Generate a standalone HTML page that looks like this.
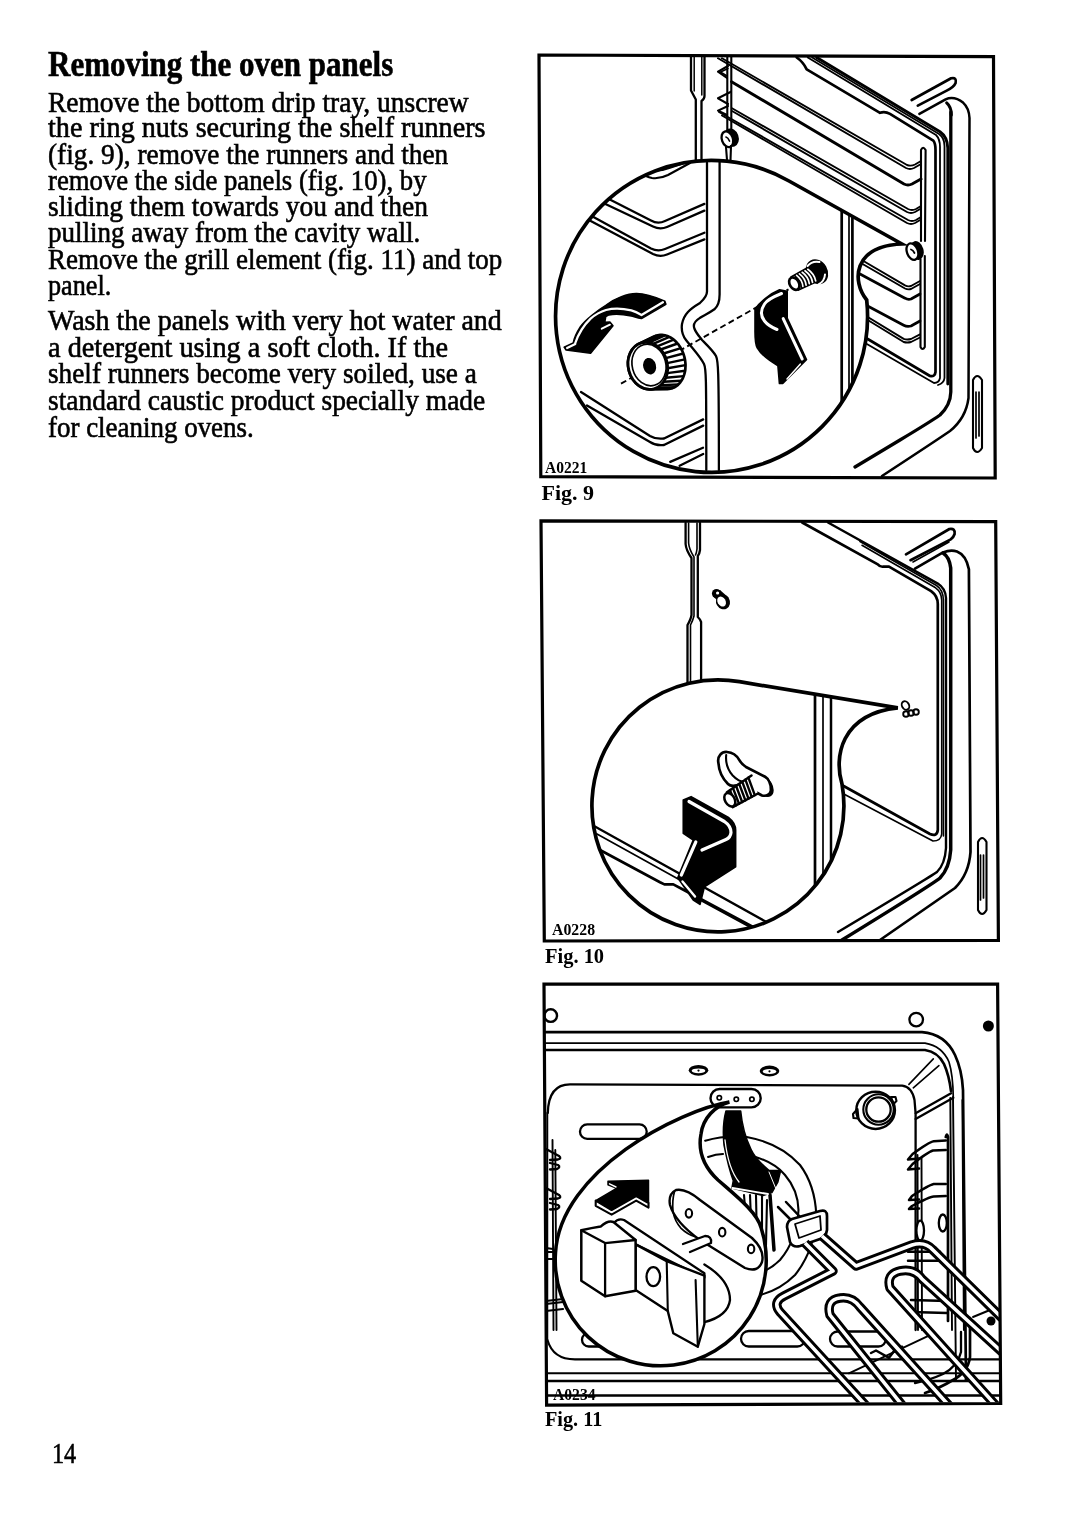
<!DOCTYPE html>
<html><head><meta charset="utf-8"><style>
html,body{margin:0;padding:0;background:#fff;}
body{width:1080px;height:1526px;position:relative;overflow:hidden;font-family:"Liberation Serif",serif;color:#000;}
.l{position:absolute;left:48px;font-size:29.5px;line-height:0;white-space:pre;transform-origin:0 0;-webkit-text-stroke:0.6px #000;}
.h{position:absolute;left:48px;top:64.1px;font-size:36px;font-weight:bold;line-height:0;white-space:pre;transform-origin:0 0;-webkit-text-stroke:0.6px #000;}
.c{position:absolute;font-weight:bold;line-height:0;white-space:pre;transform-origin:0 0;}
svg{position:absolute;left:0;top:0;}
.l,.h,.c{filter:grayscale(1);}
</style></head><body>
<div class="h" style="transform:scaleX(0.8609)">Removing the oven panels</div>
<div class="l" style="top:101.5px;transform:scaleX(0.9305)">Remove the bottom drip tray, unscrew</div>
<div class="l" style="top:127.2px;transform:scaleX(0.9535)">the ring nuts securing the shelf runners</div>
<div class="l" style="top:153.8px;transform:scaleX(0.9254)">(fig. 9), remove the runners and then</div>
<div class="l" style="top:180.0px;transform:scaleX(0.9062)">remove the side panels (fig. 10), by</div>
<div class="l" style="top:205.9px;transform:scaleX(0.9331)">sliding them towards you and then</div>
<div class="l" style="top:231.7px;transform:scaleX(0.9162)">pulling away from the cavity wall.</div>
<div class="l" style="top:258.7px;transform:scaleX(0.9141)">Remove the grill element (fig. 11) and top</div>
<div class="l" style="top:284.6px;transform:scaleX(0.8885)">panel.</div>
<div class="l" style="top:319.6px;transform:scaleX(0.9485)">Wash the panels with very hot water and</div>
<div class="l" style="top:346.7px;transform:scaleX(0.9588)">a detergent using a soft cloth. If the</div>
<div class="l" style="top:373.4px;transform:scaleX(0.9233)">shelf runners become very soiled, use a</div>
<div class="l" style="top:400.2px;transform:scaleX(0.9299)">standard caustic product specially made</div>
<div class="l" style="top:427.1px;transform:scaleX(0.9135)">for cleaning ovens.</div>
<div class="l" style="left:51.5px;top:1452.6px;transform:scaleX(0.82)">14</div>
<svg width="1080" height="1526" viewBox="0 0 1080 1526" fill="none" stroke="#000" stroke-linecap="round" stroke-linejoin="round">
<g id="fig9">
<g stroke-width="2.3">
<!-- left rail -->
<path d="M691,57 L691,90.5 L695.8,99.5 L695.8,162"/>
<path d="M704.5,57 L704.5,96 Q704.5,99 701.5,101 L701.5,162"/>
<path d="M694.2,57 L694.2,91" stroke-width="1.5"/>
<path d="M701.8,57 L701.8,95" stroke-width="1.5"/>
<!-- runner wire vertical -->
<path d="M727.3,57 L727.3,130" stroke-width="2.1"/>
<path d="M731.3,57 L731.3,131" stroke-width="2.1"/>
<path d="M728,66 L718,71.7 L727,78" stroke-width="2.1"/>
<path d="M728,68.5 L720.5,72 L727,76" stroke-width="1.5"/>
<path d="M731,91.7 L718,98.3 L728,104" stroke-width="2.1"/>
<path d="M728,106 L718,110.6 L727,115" stroke-width="2.1"/>
<ellipse cx="731.3" cy="137.6" rx="7.3" ry="9.4" transform="rotate(-20 731.3 137.6)" fill="#000" stroke="none"/>
<ellipse cx="727.4" cy="139.2" rx="5.5" ry="8.1" transform="rotate(-20 727.4 139.2)" fill="#fff" stroke-width="2.3"/>
<path d="M726,137 Q728,137.5 729.5,141" stroke-width="1.7"/>
<path d="M726,147 L727,160 M731,146 L730.5,160" stroke-width="2.1"/>
<!-- upper shelf diagonals -->
<path d="M718,58.3 L906,168 Q910,170 914,168 L921,164" stroke-width="1.9"/>
<path d="M722,58.3 L907,165 Q911,166.5 915,164.5 L921,161" stroke-width="1.9"/>
<path d="M731.5,81.7 L904,184 Q908,186 912,184 L921,179" stroke-width="2.9"/>
<path d="M732,108.3 L908,209 Q912,211 916,209 L921,206" stroke-width="1.9"/>
<path d="M732,111 L907,212 Q911,214 915,212 L921,208.5" stroke-width="1.9"/>
<path d="M719,112 L908,220 Q912,222 916,220 L921,217" stroke-width="1.9"/>
<path d="M722,115.5 L907,223 Q911,225 915,223 L921,219.5" stroke-width="1.9"/>
<!-- top panel lines -->
<path d="M796.7,57.5 Q803.3,62 806.7,69.4 L880,112.8 Q885,111 890,113.9 L933.3,140.6 Q935.5,143 935.5,150 L935.5,372 Q935,377 930,376 L866,338" stroke-width="2.7"/>
<path d="M807.8,57.5 L936,135 Q940,139 940,147 L940,378 Q939,383 934,383 L866,343.5" stroke-width="1.8"/>
<path d="M812.2,57.5 L939,134 Q944.5,138 944.5,146 L944.5,378 Q944,383 938,385" stroke-width="1.8"/>
<path d="M816.7,57.5 L940,131.7 Q947.5,137 947.8,148 L947.8,384" stroke-width="2.9"/>
<!-- cavity corner -->
<path d="M950.8,112 L950.8,392 Q950.5,405 940,415 Q930,422 900,440 L855,467" stroke-width="3.3"/>
<path d="M946.7,102.8 Q951.5,107 951.3,115" stroke-width="3.1"/>
<!-- hairpin -->
<path d="M911.7,100 L951.1,78.3 Q957,77 955.6,83 Q954,87 946.7,90.6 L917.8,105.6" stroke-width="2.7"/>
<path d="M919.4,113.9 L945.6,99.4 Q954,95.5 963.3,102.8 Q969,108 969.5,118 L968.5,398 Q966,418 950,431 Q940,438 882,476" stroke-width="2.5"/>
<!-- vertical rod -->
<path d="M921,150 Q923,145.5 925.6,150 L925,241 M921,241 L921,150" stroke-width="2.1"/>
<path d="M920.5,259 L920.5,347 Q922.5,351 924.8,347 L924.8,256" stroke-width="2.1"/>
<!-- lower shelf chevrons right -->
<path d="M860,259 L905,285.4 Q908,287 911,286 L920,281" stroke-width="1.9"/>
<path d="M860,262.5 L905,288.5 Q908,290 911,289 L920,284" stroke-width="1.9"/>
<path d="M860,274 L905,298.2 Q908,300 911,299 L920,294" stroke-width="2.7"/>
<path d="M862,303 L903.7,325.3 Q907,327 911,326 L920,321" stroke-width="2.7"/>
<path d="M862,313.5 L903.7,338.9 Q907,340 911,339 L920,334.4" stroke-width="1.9"/>
<path d="M862,316.5 L903.7,342 Q907,343 911,342 L920,337.5" stroke-width="1.9"/>
<!-- ring nut at tip -->
<ellipse cx="917" cy="250.5" rx="6.5" ry="9.6" transform="rotate(-15 917 250.5)" fill="#000" stroke="none"/>
<ellipse cx="912.4" cy="251.6" rx="5.5" ry="8.6" transform="rotate(-20 912.4 251.6)" fill="#fff" stroke-width="2.3"/>
<path d="M911,249.5 Q913,250 914.5,253" stroke-width="1.8"/>
<!-- slot -->
<path d="M973,380 Q977,372 982,380 L982,448 Q977,456 973,448 Z" stroke-width="2.1"/>
<path d="M976,392 L976,438 M979,392 L979,436" stroke-width="1.7"/>
</g>
<!-- lens -->
<clipPath id="lens9"><path d="M902,244 L789,181 A156 156 0 1 0 866.7,300 C852,282 852,246 902,244 Z"/></clipPath>
<path d="M902,244 L789,181 A156 156 0 1 0 866.7,300 C852,282 852,246 902,244 Z" fill="#fff" stroke="none"/>
<g clip-path="url(#lens9)">
<g stroke-width="2.3">
<path d="M841.7,200 L841.7,410" stroke-width="2.7"/>
<path d="M849,200 L849,410" stroke-width="1.7"/>
<path d="M852.4,200 L852.4,410" stroke-width="2.7"/>
<!-- S-bend double line -->
<path d="M707,163 L707,291.5 C707,297 702,301 699.6,303.3 C690,309 684,314 682,324 C681,331 683,336 686,340 C692,348 700,356 704,364 C706,368 706.3,372 706.3,470"/>
<path d="M719.6,161 L719.6,294.4 C719.6,302 717,307 714.4,309.3 C708,314 702,316 699.6,318.1 C695,321 693,325 694.4,328.5 C696,333 699,336 702,340 C708,346 713,350.7 716,356 C718,360 718.9,363 718.9,470"/>
<!-- upper-left chevrons -->
<path d="M600,194.5 L651,220.5 Q657.8,224.5 665,221 L704.4,203.9"/>
<path d="M598,200.5 L653,226.5 Q660,230 667,227 L704.4,210.6"/>
<path d="M588,214 L651,248.5 Q657.8,252 665,249 L704.4,232.8"/>
<path d="M586,218.5 L653,254 Q660,257.5 667,254.5 L704.4,239.4"/>
<path d="M640,172 Q646,177 652,178 Q660,179 668,175 L690,163" stroke-width="2.1"/>
<path d="M650,170 Q660,172 670,168 L685,163" stroke-width="1.7"/>
<!-- lower chevrons -->
<path d="M581,392 L650,436 Q656,439.5 664,438.5 L703.2,419.4"/>
<path d="M587,405.5 L650,442 Q656,446 664,445 L703.2,425.6"/>
<path d="M670.2,461.9 L703,447.7"/>
<path d="M679.6,465.8 L703.2,454"/>
<!-- dashed axis -->
<path d="M621,383.7 L788.5,289.3" stroke-width="1.9" stroke-dasharray="6 3.5" stroke-linecap="butt"/>
</g>
<!-- curved arrow -->
<path d="M664.9,301.2 C655,297 645,293.5 636.4,293.6 C628,293.5 615,298 605.8,305.3 C598,310 585,320 580.4,326.7 C577,332 574,338 573.2,343 L564.1,347.1 L566.1,350.1 L590.6,353.2 L613,325.7 L609.9,322 L604.8,322.2 L605.8,316.5 L608.9,314.9 C614,313.8 621,313.7 631.3,316 C635,317 638,318 641.5,318.6 L665.9,304.3 Z" fill="#000" stroke="#000" stroke-width="1.5"/>
<path d="M575.3,343 C578,335 584,325 590.6,318.6 C596,314 601,311.5 606,310 C612,308.5 622,308.3 631.3,310.4 C635,311.5 638,313 641.5,315 L662.9,302.3" stroke="#fff" stroke-width="2.3"/>
<path d="M567.1,348.1 L575.3,344" stroke="#fff" stroke-width="2.2"/>
<path d="M601.8,328.7 L609.9,324.7" stroke="#fff" stroke-width="2"/>
<!-- knurled nut -->
<path d="M628.0,362.7 L628.1,361.1 L628.3,359.5 L628.6,357.9 L628.9,356.4 L629.4,354.9 L630.0,353.5 L630.6,352.1 L631.3,350.8 L632.2,349.6 L633.0,348.4 L634.0,347.4 L635.0,346.4 L636.1,345.5 L637.3,344.7 L638.5,344.0 L653.5,336.8 L654.8,336.2 L656.2,335.6 L657.6,335.3 L659.0,335.0 L660.5,334.9 L662.0,334.9 L663.5,335.1 L665.0,335.3 L666.5,335.7 L668.0,336.3 L669.4,336.9 L670.9,337.7 L672.3,338.6 L673.6,339.6 L675.0,340.8 L676.2,342.0 L677.4,343.3 L678.6,344.7 L679.6,346.2 L680.6,347.8 L681.5,349.5 L682.4,351.2 L683.1,352.9 L683.7,354.7 L684.3,356.6 L684.7,358.4 L685.1,360.3 L685.3,362.2 L685.5,364.1 L685.5,366.0 L685.4,367.8 L685.3,369.7 L685.0,371.5 L684.6,373.2 L684.1,374.9 L683.5,376.5 L682.9,378.1 L682.1,379.6 L681.2,381.0 L680.3,382.3 L679.3,383.5 L678.2,384.6 L677.0,385.6 L675.8,386.5 L674.5,387.2 L673.2,387.8 L671.8,388.4 L670.4,388.7 L669.0,389.0 L667.5,389.1 L650.6,389.3 L649.2,389.3 L647.8,389.2 L646.5,389.0 L645.1,388.7 L643.7,388.2 L642.4,387.7 L641.1,387.0 L639.8,386.3 L638.5,385.4 L637.3,384.4 L636.2,383.4 L635.1,382.3 L634.1,381.0 L633.1,379.8 L632.2,378.4 L631.4,377.0 L630.7,375.5 L630.0,374.0 L629.4,372.4 L629.0,370.8 L628.6,369.2 L628.3,367.6 L628.1,366.0 L628.0,364.3 Z" fill="#fff" stroke-width="2.7"/>
<path d="M633.5,347.9 L648.2,341.1 M636.8,345.0 L651.7,337.9 M640.6,343.1 L655.7,335.8 M644.7,342.3 L660.2,334.9 M649.0,342.6 L664.8,335.3 M653.2,343.9 L669.4,336.9 M657.1,346.3 L673.7,339.7 M660.7,349.5 L677.6,343.5 M663.6,353.5 L680.9,348.2 M665.8,358.1 L683.3,353.5 M667.2,363.1 L684.9,359.3 M667.6,368.2 L685.5,365.1 M667.2,373.1 L685.1,370.8 M665.8,377.7 L683.7,376.1 M663.6,381.8 L681.4,380.7 M660.7,385.1 L678.3,384.5 M657.1,387.6 L674.5,387.2" stroke-width="2.4" stroke-linecap="butt"/>

<ellipse cx="647.8" cy="365.8" rx="19.5" ry="23.8" transform="rotate(-15 647.8 365.8)" fill="#fff" stroke-width="2.9"/>
<ellipse cx="649" cy="365" rx="16.8" ry="21" transform="rotate(-15 649 365)" stroke-width="1.7"/>
<ellipse cx="649.6" cy="366.2" rx="6.4" ry="8.4" transform="rotate(-15 649.6 366.2)" fill="#000" stroke="none"/>
<!-- screw -->
<ellipse cx="817" cy="271.7" rx="10.6" ry="13" transform="rotate(-30 817 271.7)" fill="#000" stroke="none"/>
<path d="M807.5,266 Q812,260.5 819.5,262" stroke="#fff" stroke-width="2"/>
<path d="M825,274.5 Q824.5,281.5 818.5,284.3" stroke="#fff" stroke-width="2"/>
<path d="M791,276.8 L807,267.8 L817,281.5 L798,290.2 Z" fill="#000" stroke="#000" stroke-width="1.5"/>
<path d="M793.9,276.8 Q799.5,281.3 799.6,287.8 M796.6,275.3 Q802.4,279.9 802.9,286.4 M799.4,273.8 Q805.5,278.5 806.1,285.1 M802.2,272.3 Q808.4,277.0 809.3,283.7 M805.0,270.8 Q811.5,275.6 812.5,282.3 M807.8,269.3 Q814.4,274.1 815.7,280.9" stroke="#fff" stroke-width="1.7"/>
<ellipse cx="794.3" cy="283.6" rx="4.6" ry="6.6" transform="rotate(-30 794.3 283.6)" fill="#fff" stroke-width="2.7"/>
<!-- clip -->
<path d="M755.2,309.3 C760,302 770,294 779.6,290 L787,291.5 L787,318.1 L806.3,359.6 L782.6,383.3 L779.6,383.3 L778.1,365.6 C772,362 762,356 757.4,347.8 C755,343 755.2,338 755.2,330 Z" fill="#000" stroke="#000" stroke-width="2"/>
<path d="M781.5,293.5 C774,296.5 767,300 764.5,304 C760.5,310 760.5,316 764.5,321 C768,325.5 772,327.5 777,329.5" stroke="#fff" stroke-width="3"/>
<path d="M783.2,318.6 L802.2,359" stroke="#fff" stroke-width="3"/>
<path d="M787,378.9 L800.4,364" stroke="#fff" stroke-width="1.5"/>
</g>
<path d="M902,244 L789,181 A156 156 0 1 0 866.7,300 C852,282 852,246 902,244 Z" stroke-width="3.7" stroke-linejoin="miter"/>
</g>

<g id="fig10">
<g stroke-width="2.3">
<!-- rail -->
<path d="M685.6,523 L685.6,544 Q686,550 691.5,558 L691.5,615 Q691,619 687.5,625 L687.5,690"/>
<path d="M688.6,523 L688.6,543 Q689,549 694,557 L694,616 Q693,620 690.5,625 L690.5,690" stroke-width="1.6"/>
<path d="M700,523 L700,550 Q699.5,554 697.8,556 L697.8,617 Q700,619 701.1,622 L701.1,690"/>
<path d="M697,523 L697,549 Q696.5,553 695.5,555" stroke-width="1.6"/>
<!-- keyhole -->
<circle cx="716.5" cy="593.5" r="4.6" fill="#000" stroke="none"/>
<ellipse cx="723" cy="601.9" rx="6.9" ry="7.6" transform="rotate(-30 723 601.9)" fill="#000" stroke="none"/>
<path d="M712.5,596 L717,600 L729,598 L720,590 Z" fill="#000" stroke="none"/>
<circle cx="717.6" cy="593" r="1.6" fill="#fff" stroke="none"/>
<ellipse cx="721.6" cy="601.6" rx="4" ry="5.3" transform="rotate(-30 721.6 601.6)" fill="#fff" stroke="none"/>
<!-- panel top edges -->
<path d="M802.2,522.5 L877.8,564.4 Q880,567 883,566.7 L889,566.7 L931.1,591.1 Q937.8,596 937.8,604 L937.8,830 Q937,837 930,834 L840,784" stroke-width="2.7"/>
<path d="M862,545.3 L935.6,587.8 Q941.5,592 941.7,600 L941.7,834 Q941,841 933,841 L840,792" stroke-width="1.6"/>
<path d="M860,541.5 L936.5,585.5 Q943.2,590 943.4,600 L943.4,836" stroke-width="1.6"/>
<path d="M828,522.5 L937.8,583.6 Q945.5,588.5 946,598 L946,848 Q945,864 937,872 Q930,877 838,932" stroke-width="2.4"/>
<!-- hairpin -->
<path d="M906,554.4 L949.4,529 Q955.5,528 954.6,534 Q953.5,537.5 950.7,539.4 L910.5,560.2" stroke-width="2.7"/>
<path d="M913,562 L949,542" stroke-width="1.6"/>
<path d="M915,568.6 L943,552.4 Q950.7,549.5 957,551.5 Q966,555 968.9,569.2 L970.5,852 Q969,874 955,888 Q945,895 880,940" stroke-width="2.7"/>
<path d="M943,553 Q949.4,557 950.7,568 L950.7,850 Q949.5,868 940,878 Q933,884 842,940" stroke-width="3.5"/>
<!-- slot -->
<path d="M978,842 Q982,834 986.5,842 L986.5,910 Q982,918 978,910 Z" stroke-width="2.1"/>
<path d="M980.5,855 L980.5,900 M983.5,855 L983.5,898" stroke-width="1.7"/>
<!-- screw at tip -->
<ellipse cx="905.5" cy="705.5" rx="3.5" ry="4.5" transform="rotate(-30 905.5 705.5)" fill="#fff" stroke-width="1.9"/>
<circle cx="906" cy="714" r="2.8" stroke-width="1.9"/>
<circle cx="911" cy="713" r="2.8" stroke-width="1.9"/>
<circle cx="916" cy="712" r="2.8" stroke-width="1.9"/>
</g>
<!-- lens -->
<clipPath id="lens10"><path d="M897.8,707.8 L739.4,681.7 A126 126 0 1 0 842,784 C834,758 840,714 897.8,707.8 Z"/></clipPath>
<path d="M897.8,707.8 L739.4,681.7 A126 126 0 1 0 842,784 C834,758 840,714 897.8,707.8 Z" fill="#fff" stroke="none"/>
<g clip-path="url(#lens10)">
<g stroke-width="2.3">
<path d="M815,680 L815,900" stroke-width="2.7"/>
<path d="M823,680 L823,900" stroke-width="1.7"/>
<path d="M831,680 L831,900" stroke-width="2.5"/>
<path d="M594,826 L770,924"/>
<path d="M597,834 L680,880" stroke-width="1.7"/>
<path d="M600,850 L660,882.2 L664.4,884.4 L673.3,884.4 L682,889 L770,936" stroke-width="2.7"/>
<path d="M700,900 L770,938" stroke-width="1.7"/>
</g>
<!-- clip black -->
<path d="M683.3,800 L691.1,796.7 L728.9,817.8 Q735.6,823 735.6,830 L735.6,866.7 L704.4,886.7 L700,904.4 L693.3,900 L677.8,877.8 L693.3,840 L683.3,833.3 Z" fill="#000" stroke="#000" stroke-width="1.7"/>
<path d="M689,801.5 L724.4,821.5 Q731,826 731,832.5 Q730.5,837.5 726,839.5 L702,850" stroke="#fff" stroke-width="3.2"/>
<path d="M695.8,842 L681.3,875" stroke="#fff" stroke-width="3.2"/>
<path d="M682.5,881.5 L695,896.5" stroke="#fff" stroke-width="2.4"/>
<!-- wing screw -->
<ellipse cx="765" cy="786.5" rx="6.2" ry="10" transform="rotate(-30 765 786.5)" fill="#fff" stroke-width="2.7"/>
<path d="M718.4,763 C717,756 722,751.5 727,752 C733,752.5 737,756 739.2,759.9 C741,763 743,765 746,767 L765.1,776.8 C769,779 771,785 770.9,790.4 C770.5,794 767,796.5 762,795.5 L741,784 C736,786 731,787 728,784 C723,779 719,772 718.4,763 Z" fill="#fff" stroke-width="2.7"/>
<path d="M726.2,755 C725.5,762 727,769 732.7,775.5 C736,779 741,782 745,782" stroke-width="2.1"/>
<path d="M726.9,792.3 L751.5,775.5 L758,793.5 L732.7,807.2 Z" fill="#fff" stroke="none"/>
<path d="M726.9,792.3 L751.5,775.5 M732.7,807.2 L758,793.5" stroke-width="2.5"/>
<path d="M730.0,790.2 L735.9,805.5 M733.0,788.1 L739.0,803.8 M736.1,786.0 L742.2,802.1 M739.2,783.9 L745.4,800.4 M742.3,781.8 L748.5,798.6 M745.4,779.7 L751.7,796.9 M748.4,777.6 L754.8,795.2" stroke-width="2.4"/>
<ellipse cx="729.8" cy="799.8" rx="4.8" ry="7.3" transform="rotate(-30 729.8 799.8)" fill="#fff" stroke-width="2.5"/>
</g>
<path d="M897.8,707.8 L739.4,681.7 A126 126 0 1 0 842,784 C834,758 840,714 897.8,707.8 Z" stroke-width="3.7" stroke-linejoin="miter"/>
</g>

<g id="fig11">
<g stroke-width="2.3">
<!-- top small circles -->
<circle cx="550.7" cy="1015.6" r="6.3" stroke-width="2.4"/>
<circle cx="916.2" cy="1019.6" r="6.8" stroke-width="2.3"/>
<circle cx="988.4" cy="1026" r="5.5" fill="#000" stroke="none"/>
<!-- cavity top edge lines -->
<path d="M546,1032.2 L922,1032.2 Q945,1034 955,1055 Q962,1070 963,1090 L966,1380" stroke-width="2.7"/>
<path d="M546,1043.2 L925,1043.2 Q942,1046 949,1062 Q953,1075 953.3,1097.8" stroke-width="1.7"/>
<path d="M546,1050 L925,1050 Q938,1052 944,1064 Q949,1075 951,1091" stroke-width="2.7"/>
<path d="M915.6,1113.3 L951.1,1093.3 M915.6,1118.9 L953.3,1097.8" stroke-width="2.3"/>
<path d="M908.9,1084.4 L933.3,1058.9 M913.3,1087.8 L938.9,1065.6" stroke-width="1.6"/>
<path d="M953,1097 L956,1380" stroke-width="1.9"/>
<!-- back panel outline -->
<path d="M547.8,1113 Q548.5,1084.4 570,1084.4 L902.2,1085.6 Q912,1087 914.5,1100 L915.6,1113.3 L915.6,1330" stroke-width="2.3"/>
<path d="M547.5,1340 Q553,1359.4 575,1359.4 L1000,1359.4" stroke-width="2.1"/>
<!-- bottom lines -->
<path d="M547,1373.3 L1000,1373.3" stroke-width="2.1"/>
<path d="M547,1381.1 L1000,1381.1" stroke-width="2.5"/>
<path d="M547,1395.6 L1000,1395.6" stroke-width="2.5"/>
<!-- slots -->
<ellipse cx="698.5" cy="1070.3" rx="9.8" ry="5.4" fill="#000" stroke="none"/>
<ellipse cx="698.5" cy="1070.8" rx="6.8" ry="2.4" fill="#fff" stroke="none"/>
<circle cx="698.5" cy="1070.6" r="1.1" fill="#000" stroke="none"/>
<ellipse cx="769.5" cy="1071" rx="9.8" ry="5.4" fill="#000" stroke="none"/>
<ellipse cx="769.5" cy="1071.5" rx="6.8" ry="2.4" fill="#fff" stroke="none"/>
<circle cx="769.5" cy="1071.3" r="1.1" fill="#000" stroke="none"/>
<rect x="580" y="1124.4" width="66.7" height="14.5" rx="7.2" stroke-width="2.3"/>
<rect x="830" y="1331.5" width="56" height="15" rx="7.5" stroke-width="2.3"/>
<rect x="741" y="1331" width="64" height="15.5" rx="7.7" stroke-width="2.3"/>
<rect x="582" y="1333" width="45" height="13.5" rx="6.7" stroke-width="2.3"/>
<path d="M871,1353 L876,1350.5 L889,1357.8 L895.6,1348.9 L902.2,1346.7" stroke-width="2.5"/>
<path d="M848.9,1373.3 L928.9,1335.6" stroke-width="1.9"/>
<path d="M970,1318 L970,1357 Q968,1372 953,1380 Q940,1388 925,1393" stroke-width="2.7"/>
<path d="M961,1332 L961,1352 Q958,1366 943,1374 Q930,1380 915,1383" stroke-width="2.3"/>
<!-- light -->
<ellipse cx="875.6" cy="1110.3" rx="19.3" ry="18.6" stroke-width="2.5"/>
<circle cx="878.5" cy="1109.5" r="15.2" stroke-width="2.1"/>
<circle cx="878.5" cy="1109.5" r="12.2" stroke-width="2.3"/>
<path d="M857.5,1109 L853,1114 L853.5,1118 L858.5,1118.5 Z" stroke-width="2.1"/>
<path d="M891,1097 L895.5,1097 L896.5,1101 L893.5,1104 Z" stroke-width="2.1"/>
<!-- left runners -->
<path d="M547.3,1113 L547.3,1340 M552.5,1140 L553.5,1330 M555.3,1150 L556.5,1330" stroke-width="1.9"/>
<path d="M546,1149 L559,1156 Q562,1158.5 558,1159.5 L550,1160" stroke-width="2.3"/>
<path d="M550,1163 L558,1165 Q561,1167 557,1169 L550,1169.5" stroke-width="2.3"/>
<path d="M546,1188 L559,1195 Q562,1197.5 558,1198.5 L550,1199" stroke-width="2.3"/>
<path d="M550,1203 L558,1205 Q561,1207 557,1209 L550,1209.5" stroke-width="2.3"/>
<path d="M546,1248 L553,1249 M546,1252 L553,1252 M546,1259 L553,1259" stroke-width="2.1"/>
<path d="M546,1301 L563,1299 M546,1304 L563,1302 M546,1311 L563,1309" stroke-width="2.1"/>
<!-- right runners -->
<path d="M962.5,1100 L964,1330" stroke-width="2.1"/>
<path d="M950.3,1098 L952,1330" stroke-width="1.9"/>
<path d="M945.8,1137 Q946.9,1132 948,1137 L948,1321" stroke-width="2.7"/>
<path d="M917.5,1155 L918,1330 M921.5,1158 L922,1330" stroke-width="1.9"/>
<path d="M945.8,1140.5 L933.7,1141.2 Q929,1142 912.6,1154 L908,1159.5 L919,1158.5" stroke-width="2.5"/>
<path d="M945.8,1150 L933,1150.5 Q928,1152 912.6,1164 L908,1169.5 L919,1168.5" stroke-width="2.5"/>
<path d="M945.8,1183.9 L933.7,1184 Q929,1185 912,1196 L909,1200 L919,1199.5" stroke-width="2.5"/>
<path d="M945.8,1196 L933.7,1196.5 Q929,1197 912,1206 L909,1209 L919,1208.5" stroke-width="2.5"/>
<ellipse cx="920.2" cy="1230.6" rx="3.8" ry="10" fill="#fff" stroke-width="2.3"/>
<ellipse cx="942.8" cy="1223" rx="4" ry="8.5" fill="#fff" stroke-width="2.3"/>
<path d="M908,1251.7 L940,1251.7 M908,1260.8 L940,1260.8" stroke-width="2.5"/>
<path d="M911,1300 L947,1301 M911,1312 L947,1313" stroke-width="2.5"/>
<circle cx="991" cy="1321" r="4.5" fill="#000" stroke="none"/>
<path d="M973,1317 L990,1310" stroke-width="1.9"/>
<!-- fan circles -->
<path d="M705.2,1140.7 Q725,1135 746.7,1137 Q780,1143 800,1165 Q815,1185 816.3,1215 Q815,1250 795,1275 Q780,1290 760,1295" stroke-width="2.1"/>
<path d="M708.1,1157 Q716,1154 723,1154 M755.6,1157 Q775,1163 785,1175 Q798,1190 798.5,1210 Q797,1240 780,1260 Q770,1270 755,1275" stroke-width="2.1"/>
<!-- plate with holes -->
<rect x="710.5" y="1089" width="50.2" height="18.4" rx="9.2" fill="#fff" stroke-width="2.4"/>
<circle cx="719.3" cy="1097.8" r="2.2" stroke-width="1.7"/>
<circle cx="736.3" cy="1099.3" r="2.2" stroke-width="1.7"/>
<circle cx="751.9" cy="1099.3" r="2.2" stroke-width="1.7"/>
<!-- terminal stripes -->
<path d="M744,1195 L748,1245 M750,1195 L752,1245 M756,1195 L757,1245 M762,1195 L762,1245 M767,1200 L766,1245" stroke-width="2.1"/>
<path d="M770,1195 L774,1250" stroke-width="3.5"/>
<!-- connector -->
<path d="M778,1207 L795,1224 M786,1202 L803,1220" stroke-width="2.5"/>
<path d="M792,1219 L820,1211 Q827,1209 827,1216 L827,1230 Q826,1237 820,1239 L800,1246 Q793,1248 790,1242 L787,1227 Q787,1221 792,1219 Z" fill="#fff" stroke-width="2.7"/>
<path d="M795,1224 L820,1216 L821,1230 L799,1238 Z" stroke-width="1.8"/>
</g>
<!-- black curved arrow (outside lens) -->
<path d="M725.9,1111.1 L740.7,1111.1 C742,1125 744,1135 751.1,1149.6 C755,1158 760,1163 768.9,1170.4 L780.7,1170.4 L777.8,1182.2 L771.9,1192.6 L763,1195.6 L731.9,1188.1 L733.3,1180.7 C730,1172 727,1160 724,1145 C723,1135 723.5,1120 725.9,1111.1 Z" fill="#000" stroke="#000" stroke-width="1.5"/>
<path d="M725,1140 C727,1158 731,1172 739,1182" stroke="#fff" stroke-width="1.3"/>
<path d="M732.5,1188 L768,1194" stroke="#fff" stroke-width="1.8"/>
<path d="M769,1172 L776,1189" stroke="#fff" stroke-width="1"/>
<!-- heating element tubes -->
<clipPath id="f11c"><rect x="545" y="985" width="455" height="417.5"/></clipPath>
<g clip-path="url(#f11c)">
<g stroke="#000" stroke-width="9.5" stroke-linejoin="round" stroke-linecap="butt">
<path id="t1" d="M805,1243 L833,1271 L784,1296 Q772,1302 780,1312 L870,1410"/>
<path id="t2" d="M822,1236 L856,1266 L912,1245 Q925,1241 933,1250 L1002,1318"/>
<path id="t3" d="M906,1410 L830,1315 Q826,1300 840,1298 Q852,1296 860,1307 L953,1410"/>
<path id="t4" d="M1000,1410 L890,1288 Q886,1274 900,1271 Q914,1268 922,1279 L1002,1352"/>
</g>
<g stroke="#fff" stroke-width="3.6" stroke-linejoin="round" stroke-linecap="butt">
<use href="#t1"/><use href="#t2"/><use href="#t3"/><use href="#t4"/>
</g>
</g>
<!-- lens -->
<clipPath id="lens11"><path d="M729.4,1102 C680,1110 560,1170 555.5,1253 A105.5 105.5 0 1 0 761.1,1227.8 C757,1212 735,1195 718,1180 C703,1166 698,1150 701,1134 C703,1118 715,1106 729.4,1102 Z"/></clipPath>
<path d="M729.4,1102 C680,1110 560,1170 555.5,1253 A105.5 105.5 0 1 0 761.1,1227.8 C757,1212 735,1195 718,1180 C703,1166 698,1150 701,1134 C703,1118 715,1106 729.4,1102 Z" fill="#fff" stroke="none"/>
<g clip-path="url(#lens11)" stroke-width="2.3">
<!-- oval plate behind -->
<path d="M676,1190 Q668,1194 670,1205 Q675,1222 700,1240 L745,1268 Q758,1273 762,1262 Q765,1250 752,1238 L700,1200 Q686,1188 676,1190 Z" fill="#fff" stroke-width="2.4"/>
<path d="M674.5,1191.5 Q672,1200 673,1211.7 Q675,1222 681.1,1228.3 Q687,1234 695,1236.7" stroke-width="1.7"/>
<ellipse cx="688.9" cy="1213.3" rx="3.2" ry="4.3" stroke-width="2.1"/>
<ellipse cx="722.2" cy="1232.2" rx="3.2" ry="4.3" stroke-width="2.1"/>
<ellipse cx="751.1" cy="1248.9" rx="3.2" ry="4.3" stroke-width="2.1"/>
<path d="M683,1244 L705,1236 Q712,1236 711,1243 L690,1252" fill="#fff" stroke-width="2.3"/>
<!-- curved back bracket -->
<path d="M704.4,1264.4 Q730,1280 730,1300 Q728,1316 704.4,1322.2" stroke-width="2.3"/>
<!-- bar -->
<path d="M614,1223 Q618,1218 624,1220 L704.4,1273.3 L704.4,1277.8 L635.6,1244.4 Z" fill="#fff" stroke-width="2.3"/>
<!-- flange -->
<path d="M635.6,1244.4 L666.7,1261.1 L704.4,1275.6 L704.4,1324 L697.8,1346.7 L673.3,1333.3 L667.8,1311.1 L635.6,1290 Z" fill="#fff" stroke-width="2.4"/>
<path d="M666.7,1261.1 L667.8,1311.1 M695.6,1280 L697.8,1346.7" stroke-width="2.1"/>
<ellipse cx="653.3" cy="1276.7" rx="6.8" ry="9.5" stroke-width="2.3"/>
<!-- block -->
<path d="M581.3,1230.3 Q592,1228 600.6,1226.6 Q608,1220 613.4,1222 L635.6,1240 L635.6,1290.8 L605.1,1296.3 L581.3,1280.7 Z" fill="#fff" stroke-width="2.5"/>
<path d="M581.3,1230.3 L605.1,1243.1 L635.6,1240 M605.1,1243.1 L605.1,1296.3" stroke-width="2.3"/>
<!-- straight black arrow -->
<path d="M608,1181.2 L648.5,1180.3 L648.5,1203 L636.2,1196 L611.6,1210 L595.7,1200.6 L616.9,1188.2 L608,1184.7 Z" fill="#000" stroke="#000" stroke-width="1.5"/>
<path d="M595.7,1200.6 L595.7,1205.8 L611.6,1214.6 L636.2,1200.6 L648.5,1207.6 L648.5,1203 L636.2,1196 L611.6,1210 Z" fill="#fff" stroke="#000" stroke-width="2.1"/>
<path d="M609.5,1183.8 L616,1187" stroke="#fff" stroke-width="1.4"/>
</g>
<path d="M729.4,1102 C680,1110 560,1170 555.5,1253 A105.5 105.5 0 1 0 761.1,1227.8 C757,1212 735,1195 718,1180 C703,1166 698,1150 701,1134 C703,1118 715,1106 729.4,1102 Z" stroke-width="3.5" stroke-linejoin="miter"/>
</g>

<g stroke-width="3.2" stroke-linecap="square" stroke-linejoin="miter">
<path d="M539,55 L993.5,56.6 L995.2,478 L540.8,476.6 Z"/>
<path d="M541,520.8 L995.7,521.7 L998.4,940.4 L544.3,941 Z"/>
<path d="M544,984.2 L997.6,984 L1000.7,1403.5 L546.6,1405.2 Z"/>
</g>
</svg>
<div class="c" style="left:544.5px;top:468.0px;font-size:17px;transform:scaleX(0.915)">A0221</div>
<div class="c" style="left:541.5px;top:492.6px;font-size:22px">Fig. 9</div>
<div class="c" style="left:552px;top:930.1px;font-size:17px;transform:scaleX(0.93)">A0228</div>
<div class="c" style="left:545px;top:955.9px;font-size:22px;transform:scaleX(0.93)">Fig. 10</div>
<div class="c" style="left:552.5px;top:1394.7px;font-size:17px;transform:scaleX(0.92)">A0234</div>
<div class="c" style="left:545px;top:1419.3px;font-size:22px;transform:scaleX(0.92)">Fig. 11</div>
</body></html>
